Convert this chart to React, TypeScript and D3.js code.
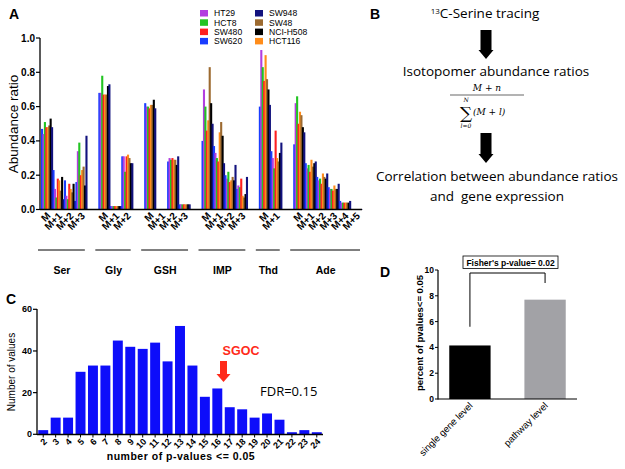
import React from "react";
import * as d3 from "d3";

// ---------- Panel A data ----------
const cellLines = ["HT29", "HCT8", "SW480", "SW620", "SW948", "SW48", "NCI-H508", "HCT116"];
const cellColors = ["#b23ee0", "#22c422", "#ff2020", "#1a3cff", "#12127e", "#9c6a30", "#000000", "#ff8c1a"];
const drawOrder = [3, 0, 1, 2, 7, 5, 6, 4];
const metabolites = ["Ser", "Gly", "GSH", "IMP", "Thd", "Ade"];
const isotopomers = [
  ["M", "M+1", "M+2", "M+3"],
  ["M", "M+1", "M+2"],
  ["M", "M+1", "M+2", "M+3"],
  ["M", "M+1", "M+2", "M+3"],
  ["M", "M+1"],
  ["M", "M+1", "M+2", "M+3", "M+4", "M+5"],
];
const valHT29 = [0.44, 0.12, 0.08, 0.34, 0.68, 0.02, 0.31, 0.60, 0.003, 0.30, 0.03, 0.70, 0.33, 0.18, 0.14, 0.93, 0.30, 0.62, 0.24, 0.17, 0.12, 0.04, 0.003];
const valHCT8 = [0.51, 0.07, 0.06, 0.39, 0.78, 0.02, 0.22, 0.60, 0.003, 0.29, 0.03, 0.60, 0.30, 0.22, 0.13, 0.83, 0.24, 0.66, 0.26, 0.18, 0.12, 0.04, 0.003];
const valSW480 = [0.48, 0.18, 0.15, 0.20, 0.67, 0.02, 0.31, 0.59, 0.003, 0.30, 0.03, 0.46, 0.28, 0.16, 0.18, 0.75, 0.46, 0.50, 0.22, 0.15, 0.11, 0.04, 0.003];
const valSW620 = [0.47, 0.23, 0.17, 0.16, 0.68, 0.02, 0.31, 0.62, 0.003, 0.28, 0.03, 0.40, 0.37, 0.20, 0.12, 0.60, 0.34, 0.38, 0.27, 0.19, 0.13, 0.05, 0.003];
const valSW948 = [0.48, 0.06, 0.05, 0.43, 0.73, 0.02, 0.27, 0.59, 0.003, 0.31, 0.03, 0.50, 0.27, 0.26, 0.19, 0.61, 0.39, 0.45, 0.28, 0.21, 0.15, 0.05, 0.003];
const valSW48 = [0.49, 0.11, 0.10, 0.25, 0.67, 0.02, 0.30, 0.61, 0.003, 0.29, 0.03, 0.83, 0.51, 0.19, 0.07, 0.76, 0.28, 0.55, 0.25, 0.19, 0.12, 0.04, 0.003];
const valH508 = [0.53, 0.19, 0.15, 0.14, 0.72, 0.02, 0.27, 0.64, 0.003, 0.26, 0.03, 0.62, 0.43, 0.17, 0.09, 0.70, 0.33, 0.48, 0.27, 0.18, 0.12, 0.04, 0.003];
const valHCT116 = [0.48, 0.17, 0.12, 0.23, 0.67, 0.02, 0.32, 0.61, 0.003, 0.29, 0.03, 0.52, 0.45, 0.17, 0.08, 0.90, 0.30, 0.57, 0.29, 0.21, 0.14, 0.04, 0.003];
const seriesA = [valHT29, valHCT8, valSW480, valSW620, valSW948, valSW48, valH508, valHCT116];
const yTicksA = [0, 0.2, 0.4, 0.6, 0.8, 1.0];

// ---------- Panel C data ----------
const pCounts = ["2", "3", "4", "5", "6", "7", "8", "9", "10", "11", "12", "13", "14", "15", "16", "17", "18", "19", "20", "21", "22", "23", "24"];
const pValues = [2, 8, 8, 30, 33, 33, 45, 42, 41, 44, 35, 52, 33, 18, 22, 13, 12, 8, 10, 7, 1, 2, 1];
const yTicksC = [0, 20, 40, 60];

// ---------- Panel D data ----------
const dCats = ["single gene level", "pathway level"];
const dValues = [4.15, 7.7];
const dColors = ["#000000", "#a2a2a6"];
const yTicksD = [0, 2, 4, 6, 8, 10];

const AR = "'Liberation Sans', Arial, sans-serif";
const OS = "'Open Sans', Lato, sans-serif";
const SERIF = "'DejaVu Serif', serif";

function PanelA() {
  const slots: string[] = [];
  metabolites.forEach((m, gi) => {
    if (gi > 0) slots.push("gap" + gi);
    isotopomers[gi].forEach((iso) => slots.push(m + "|" + iso));
  });
  const x = d3.scaleBand<string>().domain(slots).range([41, 362]).paddingInner(0.0).paddingOuter(0);
  const y = d3.scaleLinear().domain([0, 1]).range([209.5, 38]);
  const inner = d3.scaleBand<number>().domain(d3.range(8)).range([0, x.bandwidth()]).padding(0);
  const bars: JSX.Element[] = [];
  let idx = 0;
  const labels: JSX.Element[] = [];
  const groupLines: JSX.Element[] = [];
  metabolites.forEach((m, gi) => {
    const first = x(m + "|" + isotopomers[gi][0])!;
    const last = x(m + "|" + isotopomers[gi][isotopomers[gi].length - 1])! + x.bandwidth();
    groupLines.push(
      <g key={"g" + m}>
        <line x1={first - 3} x2={last - 2} y1={250} y2={250} stroke="#000" strokeWidth={1} />
        <text x={(first + last) / 2 - 2} y={274} fontFamily={AR} fontWeight="bold" fontSize={10.5} textAnchor="middle">{m}</text>
      </g>
    );
    isotopomers[gi].forEach((iso) => {
      const key = m + "|" + iso;
      const x0 = x(key)!;
      drawOrder.forEach((ci, k) => {
        const v = seriesA[ci][idx];
        bars.push(
          <rect key={key + ci} x={x0 + inner(k)!} y={y(v)} width={2.1} height={y(0) - y(v)} fill={cellColors[ci]} />
        );
      });
      const cx = x0 + x.bandwidth() / 2;
      labels.push(
        <text key={"l" + key} transform={`translate(${cx + 2},${214}) rotate(-45)`} fontFamily={AR} fontWeight="bold" fontSize={10} textAnchor="end" dy="0.35em">{iso}</text>
      );
      idx++;
    });
  });
  return (
    <g>
      <text x={9} y={19} fontFamily={AR} fontWeight="bold" fontSize={14}>A</text>
      {bars}
      <line x1={40} x2={40} y1={38} y2={210} stroke="#000" strokeWidth={1.3} />
      <line x1={40} x2={362} y1={209.5} y2={209.5} stroke="#000" strokeWidth={1.3} />
      {yTicksA.map((t) => (
        <g key={t}>
          <line x1={36} x2={40} y1={y(t)} y2={y(t)} stroke="#000" strokeWidth={1.2} />
          <text x={35} y={y(t)} dy="0.35em" fontFamily={AR} fontWeight="bold" fontSize={10} textAnchor="end">{t.toFixed(1)}</text>
        </g>
      ))}
      <text transform="translate(18,124) rotate(-90)" fontFamily={AR} fontSize={13.5} textAnchor="middle">Abundance ratio</text>
      {labels}
      {groupLines}
      {cellLines.map((c, i) => {
        const col = Math.floor(i / 4);
        const row = i % 4;
        const lx = col === 0 ? 200 : 255;
        const ly = 10 + row * 9.3;
        return (
          <g key={c}>
            <rect x={lx} y={ly} width={8} height={6.5} fill={cellColors[i]} />
            <text x={lx + 14} y={ly + 6.3} fontFamily={AR} fontSize={8.6}>{c}</text>
          </g>
        );
      })}
    </g>
  );
}

function DownArrow({ cx, y0, y1 }: { cx: number; y0: number; y1: number }) {
  const sw = 5.5;
  const hw = 7.5;
  const hh = 9;
  return (
    <path
      d={`M${cx - sw},${y0} L${cx + sw},${y0} L${cx + sw},${y1 - hh} L${cx + hw},${y1 - hh} L${cx},${y1} L${cx - hw},${y1 - hh} L${cx - sw},${y1 - hh} Z`}
      fill="#000"
    />
  );
}

function PanelB() {
  return (
    <g>
      <text x={370} y={19} fontFamily={AR} fontWeight="bold" fontSize={14}>B</text>
      <text x={485} y={18} fontFamily={OS} fontSize={13.5} textAnchor="middle">
        <tspan fontSize={8} dy={-4.5}>13</tspan>
        <tspan dy={4.5}>C-Serine tracing</tspan>
      </text>
      <DownArrow cx={486} y0={30} y1={59} />
      <text x={496} y={76} fontFamily={OS} fontSize={13.5} textAnchor="middle">Isotopomer abundance ratios</text>
      <text x={487} y={91} fontFamily={SERIF} fontStyle="italic" fontSize={9} textAnchor="middle">M + n</text>
      <line x1={450} x2={524} y1={95} y2={95} stroke="#000" strokeWidth={0.6} />
      <text x={466} y={102} fontFamily={SERIF} fontStyle="italic" fontSize={6} textAnchor="middle">N</text>
      <text x={466} y={119} fontFamily={SERIF} fontSize={17} textAnchor="middle">∑</text>
      <text x={466} y={128} fontFamily={SERIF} fontStyle="italic" fontSize={6} textAnchor="middle">l=0</text>
      <text x={473} y={115} fontFamily={SERIF} fontStyle="italic" fontSize={9}>(M + l)</text>
      <DownArrow cx={486} y0={133} y1={163} />
      <text x={497} y={181} fontFamily={OS} fontSize={13.5} textAnchor="middle">Correlation between abundance ratios</text>
      <text x={497} y={201} fontFamily={OS} fontSize={13.5} textAnchor="middle" xmlSpace="preserve">and  gene expression</text>
    </g>
  );
}

function PanelC() {
  const x = d3.scaleBand<string>().domain(pCounts).range([37, 323]).paddingInner(0.2).paddingOuter(0.1);
  const y = d3.scaleLinear().domain([0, 60]).range([434.3, 309.3]);
  const sgocX = 223.5;
  return (
    <g>
      <text x={6} y={304} fontFamily={AR} fontWeight="bold" fontSize={14}>C</text>
      {pValues.map((v, i) => (
        <rect key={i} x={x(pCounts[i])} y={y(v)} width={x.bandwidth()} height={y(0) - y(v)} fill="#0d0dfa" />
      ))}
      <line x1={37} x2={37} y1={309} y2={435} stroke="#000" strokeWidth={1.3} />
      <line x1={37} x2={323} y1={434.5} y2={434.5} stroke="#000" strokeWidth={1.3} />
      {yTicksC.map((t) => (
        <g key={t}>
          <line x1={33} x2={37} y1={y(t)} y2={y(t)} stroke="#000" strokeWidth={1.2} />
          <text x={32} y={y(t)} dy="0.35em" fontFamily={AR} fontWeight="bold" fontSize={9} textAnchor="end">{t}</text>
        </g>
      ))}
      {pCounts.map((p) => {
        const cx = x(p)! + x.bandwidth() / 2;
        return (
          <g key={p}>
            <line x1={cx} x2={cx} y1={434.5} y2={437.5} stroke="#000" strokeWidth={1} />
            <text transform={`translate(${cx + 2},${440}) rotate(-45)`} fontFamily={AR} fontWeight="bold" fontSize={9} textAnchor="end" dy="0.35em">{p}</text>
          </g>
        );
      })}
      <text transform="translate(15,372) rotate(-90)" fontFamily={"'Liberation Sans Narrow', " + AR} fontSize={10} textAnchor="middle">Number of values</text>
      <text x={181} y={460} fontFamily={AR} fontWeight="bold" fontSize={10.5} textAnchor="middle" letterSpacing={0.5}>number of p-values &lt;= 0.05</text>
      <text x={241} y={355} fontFamily={AR} fontWeight="bold" fontSize={12.5} fill="#ff2a1a" textAnchor="middle">SGOC</text>
      <path d={`M${sgocX - 3.5},361 L${sgocX + 3.5},361 L${sgocX + 3.5},374 L${sgocX + 7},374 L${sgocX},382 L${sgocX - 7},374 L${sgocX - 3.5},374 Z`} fill="#ff2a1a" />
      <text x={260} y={396} fontFamily={OS} fontSize={13}>FDR=0.15</text>
    </g>
  );
}

function PanelD() {
  const x = d3.scaleBand<string>().domain(dCats).range([438, 577]).paddingInner(0.45).paddingOuter(0.15);
  const y = d3.scaleLinear().domain([0, 10]).range([399, 270]);
  const c0 = x(dCats[0])! + x.bandwidth() / 2;
  const c1 = x(dCats[1])! + x.bandwidth() / 2;
  return (
    <g>
      <text x={380} y={277} fontFamily={AR} fontWeight="bold" fontSize={14}>D</text>
      {dValues.map((v, i) => (
        <rect key={i} x={x(dCats[i])} y={y(v)} width={x.bandwidth()} height={y(0) - y(v)} fill={dColors[i]} />
      ))}
      <line x1={438} x2={438} y1={270} y2={399.5} stroke="#000" strokeWidth={1.2} />
      <line x1={438} x2={577} y1={399} y2={399} stroke="#000" strokeWidth={1.2} />
      {yTicksD.map((t) => (
        <g key={t}>
          <line x1={435} x2={438} y1={y(t)} y2={y(t)} stroke="#000" strokeWidth={1} />
          <text x={434} y={y(t)} dy="0.35em" fontFamily={AR} fontWeight="bold" fontSize={8.5} textAnchor="end">{t}</text>
        </g>
      ))}
      {dCats.map((c, i) => {
        const cx = (i === 0 ? c0 : c1);
        return (
          <text key={c} transform={`translate(${cx + 1},${404}) rotate(-45)`} fontFamily={AR} fontSize={9.5} textAnchor="end" dy="0.35em">{c}</text>
        );
      })}
      <text transform="translate(423,333) rotate(-90)" fontFamily={AR} fontWeight="bold" fontSize={9.5} textAnchor="middle">percent of pvalues&lt;= 0.05</text>
      <path d={`M${c0},${y(5.6)} L${c0},273 L${c1},273 L${c1},283`} fill="none" stroke="#000" strokeWidth={1} />
      <rect x={463} y={256} width={95} height={12.5} fill="#fff" stroke="#000" strokeWidth={0.8} />
      <text x={510.5} y={265.5} fontFamily={AR} fontWeight="bold" fontSize={8.5} textAnchor="middle">Fisher's p-value= 0.02</text>
    </g>
  );
}

export default function App() {
  return (
    <svg width={625} height={469} style={{ position: "absolute", left: 0, top: 0, background: "#fff" }}>
      <rect width={625} height={469} fill="#fff" />
      <PanelA />
      <PanelB />
      <PanelC />
      <PanelD />
    </svg>
  );
}
